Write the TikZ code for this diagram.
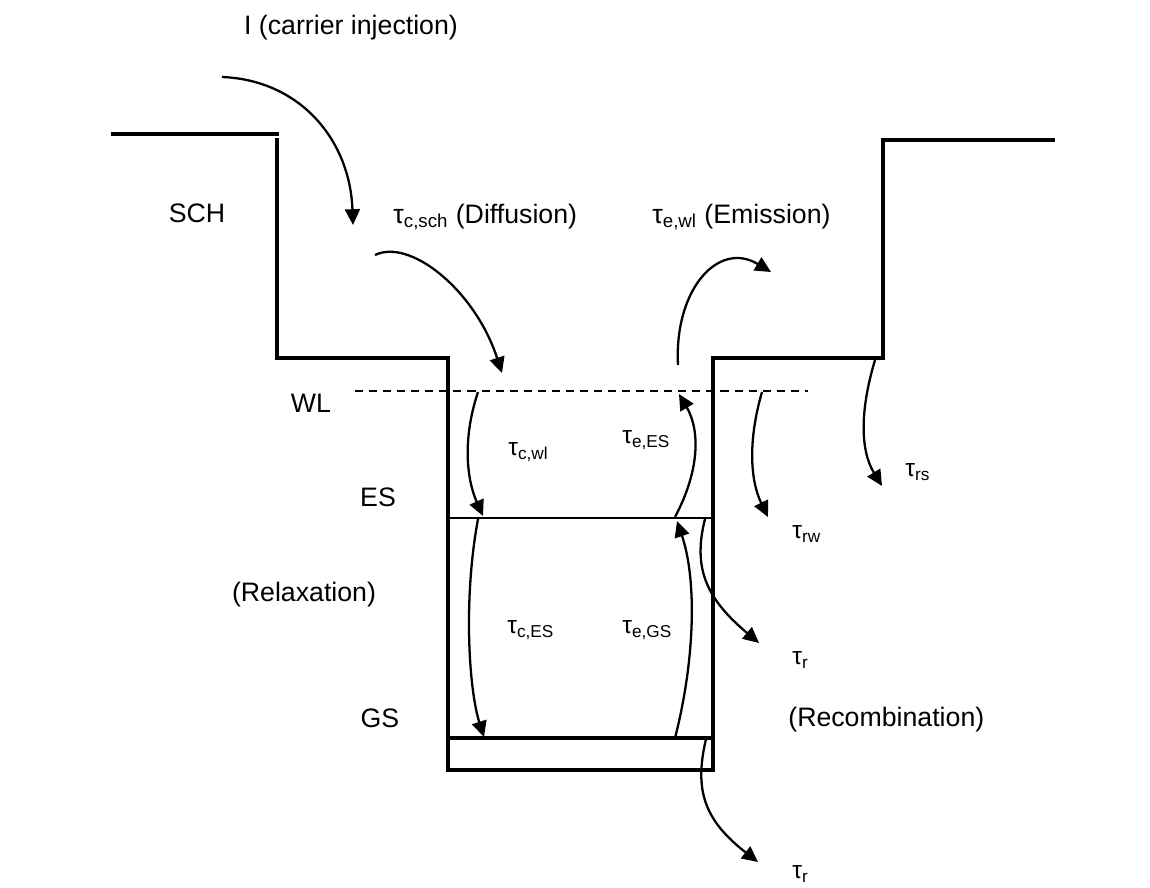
\documentclass[tikz,border=0pt]{standalone}
\usepackage{fontspec}
\setmainfont{Liberation Sans}
\usepackage{tikz}
\usetikzlibrary{arrows.meta, positioning}

\newcommand{\tauof}[1]{τ\textsubscript{#1}}

\tikzset{
  wall/.style={line width=1.8pt, line cap=rect},
  level/.style={line width=1.0pt},
  wlline/.style={line width=0.9pt, dash pattern=on 4.6pt off 3.4pt},
  carrier/.style={line width=1.3pt, -{Triangle[length=9pt, width=8.5pt]}},
  lbl/.style={font=\fontsize{15.2}{18}\selectfont, inner sep=0pt},
  taulbl/.style={font=\fontsize{14}{16}\selectfont, inner sep=0pt, anchor=west}
}

\begin{document}
\begin{tikzpicture}[x=0.02cm, y=-0.02cm]
\useasboundingbox (0,0) rectangle (1150,887);

% band edges: SCH steps and the well
\draw[wall] (113,134) -- (277,134);
\draw[wall] (277,140) -- (277,358) -- (448,358) -- (448,770) -- (713,770)
            -- (713,358) -- (883,358) -- (883,140) -- (1053,140);
\draw[wlline] (355,391) -- (808,391);
\draw[level] (448,518) -- (713,518);
\draw[wall] (448,738) -- (713,738);

% end points of the carrier paths
\coordinate (injA) at (222,77);   \coordinate (injB) at (353,225);
\coordinate (difA) at (375,255);  \coordinate (difB) at (502,373);
\coordinate (emiA) at (678,365);  \coordinate (emiB) at (771,272);
\coordinate (cwlA) at (478,392);  \coordinate (cwlB) at (483,516);
\coordinate (cesA) at (478,519);  \coordinate (cesB) at (484,737);
\coordinate (eesA) at (675,517);  \coordinate (eesB) at (679,394);
\coordinate (egsA) at (675,738);  \coordinate (egsB) at (677,521);
\coordinate (resA) at (705,519);  \coordinate (resB) at (759,643);
\coordinate (rgsA) at (706,739);  \coordinate (rgsB) at (758,862);
\coordinate (rwA)  at (762,392);  \coordinate (rwB)  at (768,517);
\coordinate (rsA)  at (875,360);  \coordinate (rsB)  at (882,486);

\draw[carrier] (injA) .. controls (300,80) and (350,140) .. (injB);
\draw[carrier] (difA) .. controls (410,238) and (475,290) .. (difB);
\draw[carrier] (emiA) .. controls (674,290) and (718,240) .. (emiB);
\draw[carrier] (cwlA) .. controls (462,440) and (467,480) .. (cwlB);
\draw[carrier] (cesA) .. controls (463,600) and (469,690) .. (cesB);
\draw[carrier] (eesA) .. controls (700,470) and (700,430) .. (eesB);
\draw[carrier] (egsA) .. controls (695,660) and (697,580) .. (egsB);
\draw[carrier] (resA) .. controls (692,570) and (708,600) .. (resB);
\draw[carrier] (rgsA) .. controls (694,790) and (704,820) .. (rgsB);
\draw[carrier] (rwA)  .. controls (748,440) and (750,480) .. (rwB);
\draw[carrier] (rsA)  .. controls (860,410) and (860,450) .. (rsB);

% labels
\node[lbl] (lblInj) at (351,28) {I (carrier injection)};
\node[lbl] (lblSCH) at (197,213) {SCH};
\node[lbl, anchor=west] (lblDiff) at (393,217) {\tauof{c,sch} (Diffusion)};
\node[lbl, anchor=west] (lblEmis) at (652,217) {\tauof{e,wl} (Emission)};
\node[lbl] (lblWL) at (311,403) {WL};
\node[lbl] (lblES) at (378,497) {ES};
\node[lbl] (lblRelax) at (304,595) {(Relaxation)};
\node[lbl] (lblGS) at (380,718) {GS};
\node[lbl, anchor=west] (lblRecomb) at (788,720) {(Recombination)};

\node[taulbl] (lblCwl) at (508,452) {\tauof{c,wl}};
\node[taulbl] (lblEes) at (622,440) {\tauof{e,ES}};
\node[taulbl] (lblCes) at (507,630) {\tauof{c,ES}};
\node[taulbl] (lblEgs) at (622,630) {\tauof{e,GS}};
\node[taulbl] (lblRs)  at (905,472) {\tauof{rs}};
\node[taulbl] (lblRw)  at (792,534) {\tauof{rw}};
\node[taulbl] (lblRa)  at (792,660) {\tauof{r}};
\node[taulbl] (lblRb)  at (792,874) {\tauof{r}};
\end{tikzpicture}
\end{document}
